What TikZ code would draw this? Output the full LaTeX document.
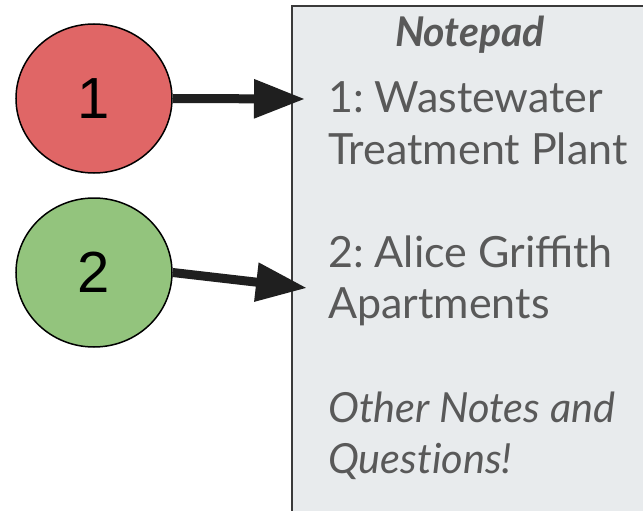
\documentclass[tikz,border=0pt]{standalone}
\usepackage{fontspec}
\usetikzlibrary{shapes.geometric,arrows.meta}
\newfontfamily\latofont{Lato}
\newfontfamily\digitfont{Liberation Sans}
\definecolor{sitered}{HTML}{E06666}
\definecolor{sitegreen}{HTML}{93C47D}
\definecolor{padfill}{HTML}{E8EBED}
\definecolor{padtext}{HTML}{595959}
\definecolor{padedge}{HTML}{3A3A3A}
\frenchspacing
\tikzset{
  site/.style={ellipse,draw=black,line width=1.5pt,minimum width=156pt,minimum height=149pt,
    inner sep=0pt,font=\digitfont\fontsize{58}{58}\selectfont},
  pointer/.style={line width=9pt,color=black!88,-{Triangle[length=51pt,width=37pt]}},
  noteline/.style={anchor=base west,inner sep=0pt,text=padtext,font=\latofont\fontsize{43}{43}\selectfont},
  extraline/.style={noteline,font=\latofont\itshape\fontsize{41.5}{41.5}\selectfont},
}
\begin{document}
\begin{tikzpicture}[x=1pt,y=-1pt]
    \useasboundingbox (0,0) rectangle (643,511);
    \clip (0,0) rectangle (643,511);
    \fill[white] (0,0) rectangle (643,511);

    \draw[fill=padfill,draw=padedge,line width=2pt] (292,6) rectangle (670,540);

    \node[site,fill=sitered] (one) at (94,98.5){1};
    \node[site,fill=sitegreen] (two) at (94,272.5){2};

    \node[anchor=base,inner sep=0pt,text=padtext,font=\latofont\bfseries\itshape\fontsize{41}{41}\selectfont] (title) at (470,47){Notepad};
    \node[noteline] (l1) at (328,112){1: Wastewater};
    \node[noteline] (l2) at (328,164){Treatment Plant};
    \node[noteline] (l3) at (328,267){2: Alice Griffith};
    \node[noteline] (l4) at (328,318){Apartments};
    \node[extraline] (l5) at (328,422){Other Notes and};
    \node[extraline] (l6) at (328,473){Quest\kern0pt ions!};

    \coordinate (tip1) at (305,99);
    \coordinate (tip2) at (307,288);
    \draw[pointer] (one.east)--(tip1);
    \draw[pointer] (two.east)--(tip2);
\end{tikzpicture}
\end{document}
